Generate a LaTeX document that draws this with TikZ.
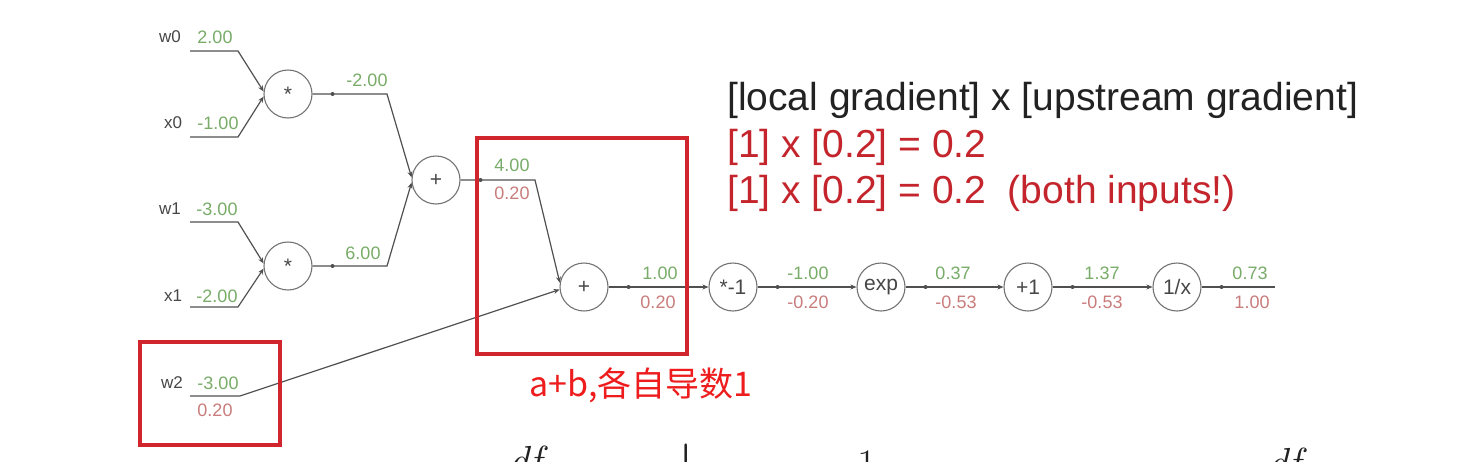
\RequirePackage{fix-cm}
\documentclass[tikz,border=0pt]{standalone}
\usepackage{fontspec}
\newfontfamily\sansf{Liberation Sans}
\newfontfamily\cjk{Noto Sans CJK SC}
\usetikzlibrary{arrows.meta}
\definecolor{wirec}{HTML}{505050}
\definecolor{gval}{HTML}{78AC68}
\definecolor{rval}{HTML}{C97C7C}
\definecolor{lbl}{HTML}{474747}
\definecolor{boxred}{HTML}{D0252D}
\definecolor{txtred}{HTML}{C4252D}
\definecolor{txtblk}{HTML}{222222}
\definecolor{cnred}{HTML}{EE1C1C}
\begin{document}
\begin{tikzpicture}[x=1pt,y=-1pt,
  op/.style={circle,draw=wirec!80,line width=1.1pt,minimum size=48pt,inner sep=0pt,
    font=\sansf\fontsize{21}{22}\selectfont,text=lbl},
  wire/.style={draw=wirec,line width=1.2pt},
  tip/.style={-{Stealth[length=6pt,width=5pt]}},
  lb/.style={text=lbl,font=\sansf\fontsize{17}{19}\selectfont,inner sep=0pt},
  gv/.style={text=gval,font=\sansf\fontsize{18}{20}\selectfont,inner sep=0pt},
  rv/.style={text=rval,font=\sansf\fontsize{18}{20}\selectfont,inner sep=0pt},
  hl/.style={draw=boxred,line width=3.2pt,inner sep=0pt},
  big/.style={anchor=west,inner sep=0pt,font=\sansf\fontsize{39}{44}\selectfont},
  frag/.style={anchor=north,inner sep=0pt,text=txtblk}]
\fill[white] (0,0) rectangle (1476,461);
\clip (0,0) rectangle (1476,461);

% operation nodes
\node[op] (m1) at (288,94) {*};
\node[op] (m2) at (288,266) {*};
\node[op] (p1) at (436,180) {+};
\node[op] (p2) at (584,287) {+};
\node[op] (n1) at (733,287) {*-1};
\node[op] (ex) at (881,287) {exp};
\node[op] (a1) at (1028,287) {+1};
\node[op] (rc) at (1177,287) {1/x};

% wire corners
\coordinate (w0a) at (190,51);  \coordinate (w0b) at (238,51);
\coordinate (x0a) at (190,137); \coordinate (x0b) at (238,137);
\coordinate (w1a) at (190,222); \coordinate (w1b) at (238,222);
\coordinate (x1a) at (190,307); \coordinate (x1b) at (238,307);
\coordinate (w2a) at (190,396); \coordinate (w2b) at (240,396);
\coordinate (o1) at (387,94);
\coordinate (o2) at (387,266);
\coordinate (o3) at (535,180);
\coordinate (fin) at (1275,287);

% wires
\draw[wire,tip] (w0a) -- (w0b) -- (m1.174);
\draw[wire,tip] (x0a) -- (x0b) -- (m1.186);
\draw[wire,tip] (w1a) -- (w1b) -- (m2.174);
\draw[wire,tip] (x1a) -- (x1b) -- (m2.186);
\draw[wire,tip] (m1.east) -- (o1) -- (p1.174);
\draw[wire,tip] (m2.east) -- (o2) -- (p1.186);
\draw[wire,tip] (p1.east) -- (o3) -- (p2.170);
\draw[wire,tip] (w2a) -- (w2b) -- (p2.186);
\draw[wire,tip] (p2) -- (n1);
\draw[wire,tip] (n1) -- (ex);
\draw[wire,tip] (ex) -- (a1);
\draw[wire,tip] (a1) -- (rc);
\draw[wire] (rc) -- (fin);

% small start markers
\foreach \n in {m1,m2,p1,p2,n1,ex,a1,rc}
  \fill[wirec] ([xshift=20pt]\n.east) circle (2pt);

% input labels
\node[lb] (lw0) at (170,37) {w0};  \node[gv] (vw0) at (215,37) {2.00};
\node[lb] (lx0) at (173,123) {x0}; \node[gv] (vx0) at (218,123) {-1.00};
\node[lb] (lw1) at (170,209) {w1}; \node[gv] (vw1) at (217,209) {-3.00};
\node[lb] (lx1) at (173,296) {x1}; \node[gv] (vx1) at (217,296) {-2.00};
\node[lb] (lw2) at (172,383) {w2}; \node[gv] (vw2) at (218,383) {-3.00};
\node[rv] (gw2) at (215,410) {0.20};

% wire values
\node[gv] (v1) at (367,80) {-2.00};
\node[gv] (v2) at (363,253) {6.00};
\node[gv] (v3) at (512,165) {4.00};  \node[rv] (g3) at (512,193) {0.20};
\node[gv] (v4) at (660,273) {1.00};  \node[rv] (g4) at (658,302) {0.20};
\node[gv] (v5) at (808,273) {-1.00}; \node[rv] (g5) at (808,302) {-0.20};
\node[gv] (v6) at (953,273) {0.37};  \node[rv] (g6) at (956,302) {-0.53};
\node[gv] (v7) at (1102,273) {1.37}; \node[rv] (g7) at (1102,302) {-0.53};
\node[gv] (v8) at (1250,273) {0.73}; \node[rv] (g8) at (1252,302) {1.00};

% highlight boxes
\node[hl,minimum width=210pt,minimum height=216pt] (hb1) at (582,246) {};
\node[hl,minimum width=140pt,minimum height=103pt] (hb2) at (210,393.5) {};

% explanation text
\node[big,text=txtblk] (t1) at (727,100) {\relax[local gradient] x [upstream gradient]};
\node[big,text=txtred] (t2) at (727,147) {\relax[1] x [0.2] = 0.2};
\node[big,text=txtred] (t3) at (727,193) {\relax[1] x [0.2] = 0.2\ \ (both inputs!)};
\node[text=cnred,inner sep=0pt,font=\cjk\fontsize{34}{36}\selectfont] (cn) at (641,385) {a+b,各自导数1};

% cut-off formula fragments at the bottom (as in the reference)
\node[frag,font=\fontsize{42}{42}\selectfont\itshape] (df1) at (525,446) {df};
\node[frag,font=\fontsize{42}{42}\selectfont\bfseries] (bar) at (686,444) {|};
\node[frag,font=\fontsize{42}{42}\selectfont] (one) at (867,451) {1};
\node[frag,font=\fontsize{42}{42}\selectfont\itshape] (df2) at (1284,448) {df};
\end{tikzpicture}
\end{document}
